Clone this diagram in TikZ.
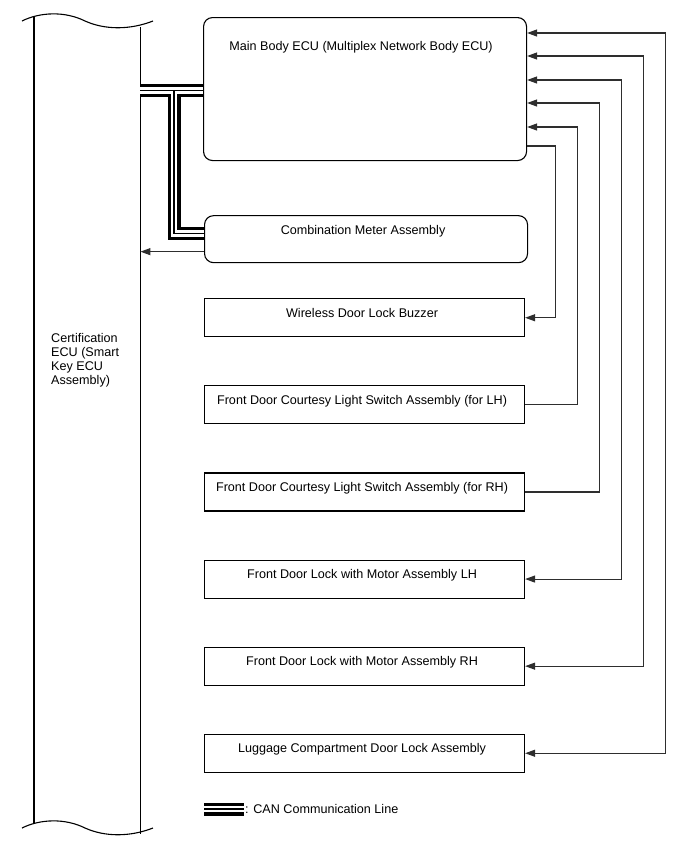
\documentclass[tikz,border=0pt]{standalone}
\usepackage{fontspec}
\setmainfont{Liberation Sans}
\usetikzlibrary{arrows.meta,positioning}
\definecolor{cWire}{HTML}{2E2E2E}
\newcommand\diagfont{\fontsize{12.6}{14}\selectfont}
\tikzset{
  panel/.style  = {rectangle, rounded corners=9pt, draw=black, line width=1.1pt,
                   minimum width=323pt, inner sep=0pt, align=center, font=\diagfont},
  unit/.style   = {rectangle, draw=black, line width=1.1pt, minimum width=320pt,
                   inner sep=0pt, text height=18.5pt, text depth=19.5pt,
                   align=center, font=\diagfont},
  sig/.style    = {-{Triangle[length=10pt,width=7pt]}, draw=cWire, line width=1.1pt},
  sigb/.style   = {{Triangle[length=10pt,width=7pt]}-{Triangle[length=10pt,width=7pt]},
                   draw=cWire, line width=1.1pt},
  edge/.style   = {draw=black, line width=1.1pt},
  lab/.style    = {font=\diagfont, inner sep=0pt},
}

\begin{document}
\begin{tikzpicture}[x=1pt, y=-1pt]
  \useasboundingbox (0,0) rectangle (688,852);

  % certification ECU (tall body, broken at both ends)
  \node[minimum width=106pt, minimum height=818pt, inner sep=0pt,
        anchor=north west] (cert) at (34,16) {};
  \node[lab, anchor=north west, align=left] (certlbl) at (51,333)
    {Certification\\ECU (Smart\\Key ECU\\Assembly)};
  \draw[edge] (cert.north west) -- ([yshift=11pt]cert.south west);
  \draw[edge] ([yshift=-11pt]cert.north east) -- (cert.south east);
  \draw[edge] (22,21) .. controls (40,12) and (65,11) .. (85,21)
                      .. controls (105,30) and (130,30) .. (153,21);
  \draw[edge] (22,828) .. controls (40,819) and (65,818) .. (85,828)
                       .. controls (105,837) and (130,837) .. (153,828);

  % ECUs
  \node[panel, text height=33pt, text depth=110pt, anchor=north west] (ecu) at (203,17)
    {Main Body ECU (Multiplex Network Body ECU)\hspace*{8pt}};
  \node[panel, text height=18.5pt, text depth=28.5pt,
        below=54pt of ecu.south west, anchor=north west, xshift=1pt] (meter)
    {Combination Meter Assembly\hspace*{6pt}};

  % switches and actuators
  \node[unit, below=35pt of meter.south west, anchor=north west] (buzz)
    {Wireless Door Lock Buzzer\hspace*{5pt}};
  \node[unit, below=48pt of buzz.south west, anchor=north west] (cslL)
    {Front Door Courtesy Light Switch Assembly (for LH)\hspace*{5pt}};
  \node[unit, below=48pt of cslL.south west, anchor=north west] (cslR)
    {Front Door Courtesy Light Switch Assembly (for RH)\hspace*{5pt}};
  \node[unit, below=48pt of cslR.south west, anchor=north west] (lockL)
    {Front Door Lock with Motor Assembly LH\hspace*{5pt}};
  \node[unit, below=48pt of lockL.south west, anchor=north west] (lockR)
    {Front Door Lock with Motor Assembly RH\hspace*{5pt}};
  \node[unit, below=48pt of lockR.south west, anchor=north west] (lugg)
    {Luggage Compartment Door Lock Assembly\hspace*{5pt}};

  % CAN bus
  \coordinate (canE) at ([yshift=-1.5pt]ecu.west);
  \coordinate (canM) at ([yshift=5.5pt]meter.west);
  \coordinate (canX) at (174,90);
  \node[lab, anchor=west] (legend) at (245,809) {: CAN Communication Line};
  \foreach \lw/\col in {13pt/black, 6.5pt/white, 1.2pt/black}
    \draw[line width=\lw, draw=\col, line join=miter]
      (canE -| cert.east) -- (canE)
      (canE -| canX) |- (canM)
      ([xshift=-1pt]legend.west) -- ++(-40,0);

  % signal lines
  \coordinate (mtrout) at ([yshift=-12.5pt]meter.west);
  \draw[sig] (mtrout) -- (mtrout -| cert.east);
  \draw[sig] ([yshift=-129pt]ecu.north east) -- ++(28,0) |- (buzz.east);
  \draw[sig] (cslL.east) -- ++(52,0) |- ([yshift=-110pt]ecu.north east);
  \draw[sig] (cslR.east) -- ++(74,0) |- ([yshift=-86pt]ecu.north east);
  \draw[sigb] ([yshift=-63pt]ecu.north east) -- ++(94,0) |- (lockL.east);
  \draw[sigb] ([yshift=-39pt]ecu.north east) -- ++(116,0) |- (lockR.east);
  \draw[sigb] ([yshift=-16pt]ecu.north east) -- ++(138,0) |- (lugg.east);
\end{tikzpicture}
\end{document}
